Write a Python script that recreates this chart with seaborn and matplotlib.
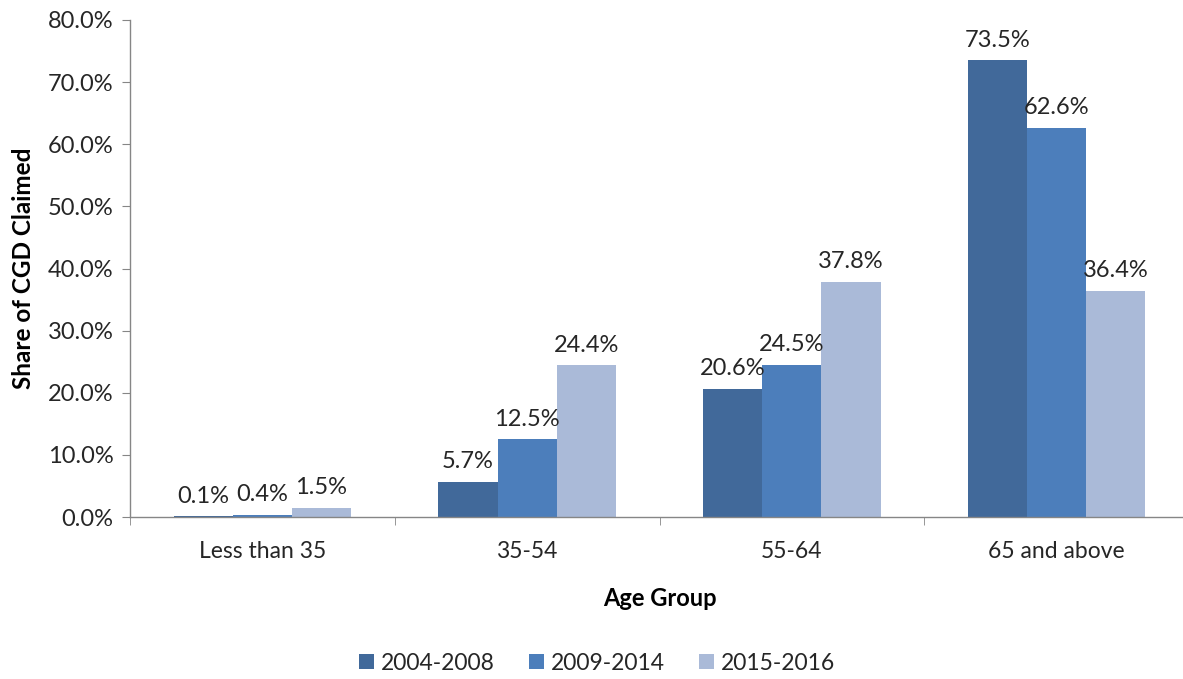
import matplotlib
matplotlib.use("Agg")
import matplotlib.pyplot as plt
import seaborn as sns
import pandas as pd
import numpy as np
from matplotlib.ticker import FixedLocator, PercentFormatter

categories = ["Less than 35", "35-54", "55-64", "65 and above"]
series = ["2004-2008", "2009-2014", "2015-2016"]
v_2004_2008 = [0.1, 5.7, 20.6, 73.5]
v_2009_2014 = [0.4, 12.5, 24.5, 62.6]
v_2015_2016 = [1.5, 24.4, 37.8, 36.4]
colors = ["#41699A", "#4C7EBB", "#AABAD8"]

rows = []
for s, vals in zip(series, [v_2004_2008, v_2009_2014, v_2015_2016]):
    for c, v in zip(categories, vals):
        rows.append({"Age Group": c, "Period": s, "Share": v})
df = pd.DataFrame(rows)

sns.set_style("white")
plt.rcParams["font.family"] = ["Lato", "DejaVu Sans"]

fig = plt.figure(figsize=(11.83, 6.79), dpi=100)
ax = fig.add_axes([130/1183, (679-517)/679, 1059/1183, 497/679])

sns.barplot(data=df, x="Age Group", y="Share", hue="Period", order=categories,
            hue_order=series, palette=colors, width=0.67, gap=0, saturation=1,
            ax=ax, legend=True, errorbar=None, edgecolor="none")

for cont in ax.containers:
    ax.bar_label(cont, fmt="%.1f%%", padding=7, fontsize=17, color="#262626")

ax.set_ylim(0, 80)
ax.set_xlim(-0.5, 3.5)
ax.set_yticks(np.arange(0, 81, 10))
ax.yaxis.set_major_formatter(PercentFormatter(decimals=1))
ax.tick_params(axis="y", labelsize=17, labelcolor="#262626", length=6,
               color="#868686", direction="out", left=True, pad=6)
ax.tick_params(axis="x", which="major", labelsize=16.5, labelcolor="#262626",
               length=0, pad=17)
ax.xaxis.set_minor_locator(FixedLocator([-0.5, 0.5, 1.5, 2.5, 3.5]))
ax.tick_params(axis="x", which="minor", length=6, color="#868686",
               direction="out", bottom=True)
for side in ["top", "right"]:
    ax.spines[side].set_visible(False)
for side in ["left", "bottom"]:
    ax.spines[side].set_color("#868686")
    ax.spines[side].set_linewidth(1)

ax.set_xlabel("Age Group", fontsize=17, fontweight="bold", color="#000000", labelpad=18)
ax.set_ylabel("Share of CGD Claimed", fontsize=17.5, fontweight="bold", color="#000000", labelpad=9)

handles, labels = ax.get_legend_handles_labels()
ax.legend_.remove()
fig.legend(handles, labels, loc="center", bbox_to_anchor=(597/1183, 1 - 663/679),
           ncol=3, frameon=False, fontsize=16.5, handlelength=0.65, handleheight=0.65,
           columnspacing=1.5, handletextpad=0.3, labelcolor="#262626")

fig.savefig("out.png", dpi=100)
